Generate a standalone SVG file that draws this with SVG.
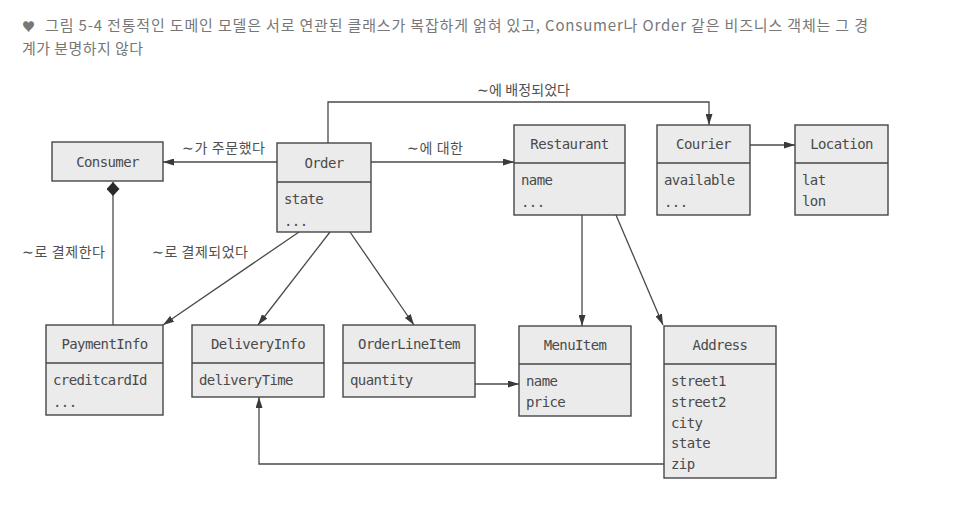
<svg xmlns="http://www.w3.org/2000/svg" width="957" height="513" viewBox="0 0 957 513">
<defs>
<style>
.cap{font-family:"Noto Sans CJK KR","Noto Sans",sans-serif;font-size:15px;fill:#777777;}
.lbl{font-family:"Noto Sans CJK KR","Noto Sans",sans-serif;font-size:14px;fill:#505050;}
.box{fill:#ebebeb;stroke:#464646;stroke-width:1.4;}
.sep{stroke:#464646;stroke-width:1.4;}
.hd{font-family:"DejaVu Sans Mono","Liberation Mono",monospace;font-size:14px;letter-spacing:-0.6px;fill:#4a4a4a;text-anchor:middle;}
.at{font-family:"DejaVu Sans Mono","Liberation Mono",monospace;font-size:14px;letter-spacing:-0.6px;fill:#4a4a4a;}
.con{fill:none;stroke:#4a4a4a;stroke-width:1.3;}
.arr{marker-end:url(#arrow);}
</style>
<marker id="arrow" viewBox="0 0 11 7" refX="11" refY="3.5" markerWidth="11" markerHeight="7" markerUnits="userSpaceOnUse" orient="auto">
<path d="M0,0 L11,3.5 L0,7 z" fill="#3a3a3a"/>
</marker>
<marker id="diamond" viewBox="0 0 14 13" refX="14" refY="6.5" markerWidth="14" markerHeight="13" markerUnits="userSpaceOnUse" orient="auto">
<path d="M0,6.5 L7,0 L14,6.5 L7,13 z" fill="#2a2a2a"/>
</marker>
</defs>
<rect width="957" height="513" fill="#ffffff"/>
<g id="caption">
<text x="22" y="31" class="cap" style="font-size:13px">♥</text>
<text x="45" y="31" class="cap" textLength="823" lengthAdjust="spacing">그림 5-4  전통적인 도메인 모델은 서로 연관된 클래스가 복잡하게 얽혀 있고, Consumer나 Order 같은 비즈니스 객체는 그 경</text>
<text x="22" y="54" class="cap" textLength="121" lengthAdjust="spacing">계가 분명하지 않다</text>
</g>
<g id="connectors">
<path class="con arr" d="M277,162 H163"/>
<path class="con arr" d="M371,162 H514"/>
<path class="con arr" d="M328,143 V102 H709 V125"/>
<path class="con arr" d="M750,145 H795"/>
<path class="con arr" d="M582,215 V326"/>
<path class="con arr" d="M616,215 L663,325"/>
<path class="con arr" d="M299,232 L163,325"/>
<path class="con arr" d="M330,232 L258,325"/>
<path class="con arr" d="M350,232 L414,325"/>
<path class="con arr" d="M475,384 H519"/>
<path class="con arr" d="M664,464 H259 V397"/>
<path class="con" d="M113,325 V182" marker-end="url(#diamond)"/>
<text class="lbl" x="182" y="153" textLength="83" lengthAdjust="spacing">∼가 주문했다</text>
<text class="lbl" x="407" y="153" textLength="56" lengthAdjust="spacing">∼에 대한</text>
<text class="lbl" x="477" y="95" textLength="93" lengthAdjust="spacing">∼에 배정되었다</text>
<text class="lbl" x="22" y="257" textLength="83" lengthAdjust="spacing">∼로 결제한다</text>
<text class="lbl" x="152" y="257" textLength="96" lengthAdjust="spacing">∼로 결제되었다</text>
</g>
<g id="Consumer">
<rect class="box" x="52" y="142" width="111" height="39"/>
<text class="hd" x="107.5" y="166.5">Consumer</text>
</g>
<g id="Order">
<rect class="box" x="277" y="143" width="94" height="89"/>
<line class="sep" x1="277" y1="182" x2="371" y2="182"/>
<text class="hd" x="324" y="167.5">Order</text>
<text class="at" x="284" y="204">state</text>
<text class="at" x="284" y="226">...</text>
</g>
<g id="Restaurant">
<rect class="box" x="514" y="125" width="111" height="90"/>
<line class="sep" x1="514" y1="163" x2="625" y2="163"/>
<text class="hd" x="569.5" y="149">Restaurant</text>
<text class="at" x="521" y="185">name</text>
<text class="at" x="521" y="207">...</text>
</g>
<g id="Courier">
<rect class="box" x="657" y="125" width="93" height="90"/>
<line class="sep" x1="657" y1="163" x2="750" y2="163"/>
<text class="hd" x="703.5" y="149">Courier</text>
<text class="at" x="664" y="185">available</text>
<text class="at" x="664" y="207">...</text>
</g>
<g id="Location">
<rect class="box" x="795" y="125" width="93" height="90"/>
<line class="sep" x1="795" y1="163" x2="888" y2="163"/>
<text class="hd" x="841.5" y="149">Location</text>
<text class="at" x="802" y="185">lat</text>
<text class="at" x="802" y="206">lon</text>
</g>
<g id="PaymentInfo">
<rect class="box" x="46" y="325" width="117" height="90"/>
<line class="sep" x1="46" y1="363" x2="163" y2="363"/>
<text class="hd" x="104.5" y="349">PaymentInfo</text>
<text class="at" x="53" y="385">creditcardId</text>
<text class="at" x="53" y="407">...</text>
</g>
<g id="DeliveryInfo">
<rect class="box" x="192" y="325" width="132" height="72"/>
<line class="sep" x1="192" y1="363" x2="324" y2="363"/>
<text class="hd" x="258" y="349">DeliveryInfo</text>
<text class="at" x="199" y="385">deliveryTime</text>
</g>
<g id="OrderLineItem">
<rect class="box" x="343" y="325" width="132" height="72"/>
<line class="sep" x1="343" y1="363" x2="475" y2="363"/>
<text class="hd" x="409" y="349">OrderLineItem</text>
<text class="at" x="350" y="385">quantity</text>
</g>
<g id="MenuItem">
<rect class="box" x="519" y="326" width="112" height="90"/>
<line class="sep" x1="519" y1="364" x2="631" y2="364"/>
<text class="hd" x="575" y="350">MenuItem</text>
<text class="at" x="526" y="386">name</text>
<text class="at" x="526" y="407">price</text>
</g>
<g id="Address">
<rect class="box" x="664" y="326" width="112" height="152"/>
<line class="sep" x1="664" y1="364" x2="776" y2="364"/>
<text class="hd" x="720" y="350">Address</text>
<text class="at" x="671" y="386">street1</text>
<text class="at" x="671" y="407">street2</text>
<text class="at" x="671" y="428">city</text>
<text class="at" x="671" y="448">state</text>
<text class="at" x="671" y="469">zip</text>
</g>
</svg>
